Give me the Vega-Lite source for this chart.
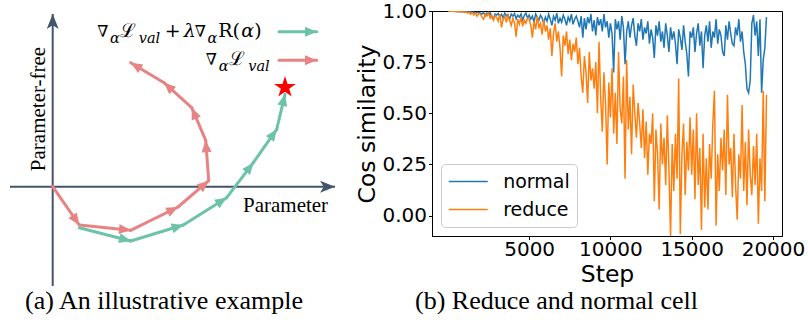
{
  "$schema": "https://vega.github.io/schema/vega-lite/v6.json",
  "padding": 0,
  "background": "white",
  "spacing": 92,
  "bounds": "flush",
  "resolve": {"scale": {"color": "independent"}, "legend": {"color": "independent"}},
  "config": {"view": {"stroke": null}},
  "datasets": {
    "segments": [
      {"path": "axis", "u": -4.27, "v": 0, "u2": 28.23, "v2": 0, "heading": 90},
      {"path": "axis", "u": 0, "v": -9.93, "u2": 0, "v2": 17.27, "heading": 0},
      {"path": "val", "u": 0, "v": 0, "u2": 2.66, "v2": -3.83, "heading": 145.2},
      {"path": "val", "u": 2.66, "v": -3.83, "u2": 7.8, "v2": -4.36, "heading": 95.9},
      {"path": "val", "u": 7.8, "v": -4.36, "u2": 12.53, "v2": -2.03, "heading": 63.8},
      {"path": "val", "u": 12.53, "v": -2.03, "u2": 15.6, "v2": 0.6, "heading": 49.4},
      {"path": "val", "u": 15.6, "v": 0.6, "u2": 15.3, "v2": 4.63, "heading": -4.3},
      {"path": "val", "u": 15.3, "v": 4.63, "u2": 13.9, "v2": 7.9, "heading": -23.2},
      {"path": "val", "u": 13.9, "v": 7.9, "u2": 11.13, "v2": 10.4, "heading": -47.9},
      {"path": "val", "u": 11.13, "v": 10.4, "u2": 7.8, "v2": 12.4, "heading": -59.0},
      {"path": "val", "u": 22.63, "v": 12.64, "u2": 26.4, "v2": 12.64, "heading": 90},
      {"path": "combined", "u": 2.66, "v": -4.1, "u2": 7.8, "v2": -5.43, "heading": 104.5},
      {"path": "combined", "u": 7.8, "v": -5.43, "u2": 13.06, "v2": -3.83, "heading": 73.1},
      {"path": "combined", "u": 13.06, "v": -3.83, "u2": 17.4, "v2": -1.1, "heading": 57.8},
      {"path": "combined", "u": 17.4, "v": -1.1, "u2": 20.06, "v2": 2.4, "heading": 37.2},
      {"path": "combined", "u": 20.06, "v": 2.4, "u2": 22.4, "v2": 5.74, "heading": 35.0},
      {"path": "combined", "u": 22.4, "v": 5.74, "u2": 23.23, "v2": 9.24, "heading": 13.3},
      {"path": "combined", "u": 22.63, "v": 15.5, "u2": 26.4, "v2": 15.5, "heading": 90}
    ],
    "cos": [
      {"step":0,"normal":1.0,"reduce":1.0},{"step":100,"normal":1.0,"reduce":1.0},{"step":200,"normal":1.0,"reduce":0.999},{"step":300,"normal":0.999,"reduce":1.0},{"step":400,"normal":1.0,"reduce":0.998},
      {"step":500,"normal":0.998,"reduce":0.999},{"step":600,"normal":0.999,"reduce":0.997},{"step":700,"normal":0.997,"reduce":0.998},{"step":800,"normal":0.998,"reduce":0.995},{"step":900,"normal":0.996,"reduce":0.997},
      {"step":1000,"normal":0.998,"reduce":0.993},{"step":1100,"normal":0.995,"reduce":0.996},{"step":1200,"normal":0.997,"reduce":0.99},{"step":1300,"normal":0.994,"reduce":0.994},{"step":1400,"normal":0.996,"reduce":0.985},
      {"step":1500,"normal":0.993,"reduce":0.992},{"step":1600,"normal":0.995,"reduce":0.98},{"step":1700,"normal":0.99,"reduce":0.99},{"step":1800,"normal":0.994,"reduce":0.975},{"step":1900,"normal":0.992,"reduce":0.988},
      {"step":2000,"normal":0.99,"reduce":0.985},{"step":2100,"normal":0.985,"reduce":0.97},{"step":2200,"normal":0.993,"reduce":0.96},{"step":2300,"normal":0.978,"reduce":0.985},{"step":2400,"normal":0.99,"reduce":0.975},
      {"step":2500,"normal":0.984,"reduce":0.99},{"step":2600,"normal":0.992,"reduce":0.965},{"step":2700,"normal":0.97,"reduce":0.98},{"step":2800,"normal":0.96,"reduce":0.955},{"step":2900,"normal":0.985,"reduce":0.975},
      {"step":3000,"normal":0.98,"reduce":0.97},{"step":3100,"normal":0.988,"reduce":0.95},{"step":3200,"normal":0.972,"reduce":0.985},{"step":3300,"normal":0.984,"reduce":0.92},{"step":3400,"normal":0.965,"reduce":0.96},
      {"step":3500,"normal":0.99,"reduce":0.975},{"step":3600,"normal":0.976,"reduce":0.945},{"step":3700,"normal":0.982,"reduce":0.98},{"step":3800,"normal":0.96,"reduce":0.955},{"step":3900,"normal":0.985,"reduce":0.93},
      {"step":4000,"normal":0.975,"reduce":0.965},{"step":4100,"normal":0.988,"reduce":0.94},{"step":4200,"normal":0.962,"reduce":0.875},{"step":4300,"normal":0.98,"reduce":0.96},{"step":4400,"normal":0.97,"reduce":0.935},
      {"step":4500,"normal":0.985,"reduce":0.97},{"step":4600,"normal":0.955,"reduce":0.925},{"step":4700,"normal":0.978,"reduce":0.955},{"step":4800,"normal":0.99,"reduce":0.94},{"step":4900,"normal":0.965,"reduce":0.965},
      {"step":5000,"normal":0.98,"reduce":0.96},{"step":5100,"normal":0.96,"reduce":0.93},{"step":5200,"normal":0.975,"reduce":0.87},{"step":5300,"normal":0.945,"reduce":0.95},{"step":5400,"normal":0.985,"reduce":0.91},
      {"step":5500,"normal":0.97,"reduce":0.975},{"step":5600,"normal":0.955,"reduce":0.92},{"step":5700,"normal":0.98,"reduce":0.94},{"step":5800,"normal":0.965,"reduce":0.885},{"step":5900,"normal":0.94,"reduce":0.955},
      {"step":6000,"normal":0.97,"reduce":0.9},{"step":6100,"normal":0.95,"reduce":0.93},{"step":6200,"normal":0.985,"reduce":0.86},{"step":6300,"normal":0.96,"reduce":0.915},{"step":6400,"normal":0.93,"reduce":0.78},
      {"step":6500,"normal":0.975,"reduce":0.89},{"step":6600,"normal":0.955,"reduce":0.94},{"step":6700,"normal":0.99,"reduce":0.85},{"step":6800,"normal":0.94,"reduce":0.9},{"step":6900,"normal":0.965,"reduce":0.82},
      {"step":7000,"normal":0.945,"reduce":0.68},{"step":7100,"normal":0.98,"reduce":0.88},{"step":7200,"normal":0.96,"reduce":0.83},{"step":7300,"normal":0.93,"reduce":0.9},{"step":7400,"normal":0.97,"reduce":0.79},
      {"step":7500,"normal":0.95,"reduce":0.86},{"step":7600,"normal":0.985,"reduce":0.76},{"step":7700,"normal":0.935,"reduce":0.84},{"step":7800,"normal":0.96,"reduce":0.8},{"step":7900,"normal":0.975,"reduce":0.87},
      {"step":8000,"normal":0.95,"reduce":0.74},{"step":8100,"normal":0.92,"reduce":0.82},{"step":8200,"normal":0.975,"reduce":0.68},{"step":8300,"normal":0.87,"reduce":0.6},{"step":8400,"normal":0.965,"reduce":0.78},
      {"step":8500,"normal":0.91,"reduce":0.7},{"step":8600,"normal":0.97,"reduce":0.55},{"step":8700,"normal":0.94,"reduce":0.8},{"step":8800,"normal":0.985,"reduce":0.66},{"step":8900,"normal":0.9,"reduce":0.72},
      {"step":9000,"normal":0.955,"reduce":0.62},{"step":9100,"normal":0.88,"reduce":0.75},{"step":9200,"normal":0.97,"reduce":0.5},{"step":9300,"normal":0.93,"reduce":0.85},{"step":9400,"normal":0.96,"reduce":0.58},
      {"step":9500,"normal":0.9,"reduce":0.41},{"step":9600,"normal":0.985,"reduce":0.7},{"step":9700,"normal":0.92,"reduce":0.55},{"step":9800,"normal":0.95,"reduce":0.25},{"step":9900,"normal":0.87,"reduce":0.65},
      {"step":10000,"normal":0.94,"reduce":0.48},{"step":10100,"normal":0.89,"reduce":0.72},{"step":10200,"normal":0.7,"reduce":0.4},{"step":10300,"normal":0.96,"reduce":0.6},{"step":10400,"normal":0.91,"reduce":0.35},
      {"step":10500,"normal":0.95,"reduce":0.8},{"step":10600,"normal":0.86,"reduce":0.52},{"step":10700,"normal":0.975,"reduce":0.45},{"step":10800,"normal":0.92,"reduce":0.68},{"step":10900,"normal":0.74,"reduce":0.18},
      {"step":11000,"normal":0.9,"reduce":0.76},{"step":11100,"normal":0.95,"reduce":0.42},{"step":11200,"normal":0.87,"reduce":0.58},{"step":11300,"normal":0.93,"reduce":0.3},{"step":11400,"normal":0.965,"reduce":0.64},
      {"step":11500,"normal":0.88,"reduce":0.5},{"step":11600,"normal":0.83,"reduce":0.38},{"step":11700,"normal":0.94,"reduce":0.55},{"step":11800,"normal":0.9,"reduce":0.45},{"step":11900,"normal":0.96,"reduce":0.33},
      {"step":12000,"normal":0.86,"reduce":0.52},{"step":12100,"normal":0.92,"reduce":0.28},{"step":12200,"normal":0.89,"reduce":0.46},{"step":12300,"normal":0.95,"reduce":0.2},{"step":12400,"normal":0.84,"reduce":0.4},
      {"step":12500,"normal":0.91,"reduce":0.35},{"step":12600,"normal":0.87,"reduce":0.5},{"step":12700,"normal":0.77,"reduce":0.07},{"step":12800,"normal":0.93,"reduce":0.42},{"step":12900,"normal":0.88,"reduce":0.3},
      {"step":13000,"normal":0.95,"reduce":0.03},{"step":13100,"normal":0.85,"reduce":0.45},{"step":13200,"normal":0.9,"reduce":0.25},{"step":13300,"normal":0.82,"reduce":0.38},{"step":13400,"normal":0.94,"reduce":0.15},
      {"step":13500,"normal":0.88,"reduce":0.49},{"step":13600,"normal":0.8,"reduce":0.22},{"step":13700,"normal":0.92,"reduce":-0.1},{"step":13800,"normal":0.86,"reduce":0.35},{"step":13900,"normal":0.9,"reduce":0.12},
      {"step":14000,"normal":0.84,"reduce":0.4},{"step":14100,"normal":0.74,"reduce":0.18},{"step":14200,"normal":0.91,"reduce":0.67},{"step":14300,"normal":0.87,"reduce":-0.09},{"step":14400,"normal":0.81,"reduce":0.3},
      {"step":14500,"normal":0.93,"reduce":0.45},{"step":14600,"normal":0.85,"reduce":0.1},{"step":14700,"normal":0.79,"reduce":0.36},{"step":14800,"normal":0.68,"reduce":0.22},{"step":14900,"normal":0.9,"reduce":0.48},
      {"step":15000,"normal":0.87,"reduce":0.2},{"step":15100,"normal":0.92,"reduce":0.42},{"step":15200,"normal":0.8,"reduce":0.08},{"step":15300,"normal":0.89,"reduce":0.5},{"step":15400,"normal":0.94,"reduce":0.15},
      {"step":15500,"normal":0.83,"reduce":0.33},{"step":15600,"normal":0.9,"reduce":-0.07},{"step":15700,"normal":0.72,"reduce":0.4},{"step":15800,"normal":0.88,"reduce":0.04},{"step":15900,"normal":0.93,"reduce":0.28},
      {"step":16000,"normal":0.85,"reduce":0.03},{"step":16100,"normal":0.95,"reduce":0.35},{"step":16200,"normal":0.82,"reduce":0.18},{"step":16300,"normal":0.9,"reduce":0.45},{"step":16400,"normal":0.87,"reduce":0.61},
      {"step":16500,"normal":0.96,"reduce":-0.05},{"step":16600,"normal":0.84,"reduce":0.3},{"step":16700,"normal":0.91,"reduce":0.12},{"step":16800,"normal":0.88,"reduce":0.38},{"step":16900,"normal":0.8,"reduce":0.22},
      {"step":17000,"normal":0.78,"reduce":0.42},{"step":17100,"normal":0.93,"reduce":0.1},{"step":17200,"normal":0.86,"reduce":0.59},{"step":17300,"normal":0.95,"reduce":0.25},{"step":17400,"normal":0.89,"reduce":0.33},
      {"step":17500,"normal":0.84,"reduce":0.09},{"step":17600,"normal":0.83,"reduce":0.4},{"step":17700,"normal":0.92,"reduce":0.15},{"step":17800,"normal":0.88,"reduce":-0.02},{"step":17900,"normal":0.96,"reduce":0.3},
      {"step":18000,"normal":0.85,"reduce":0.18},{"step":18100,"normal":0.9,"reduce":0.54},{"step":18200,"normal":0.8,"reduce":0.12},{"step":18300,"normal":0.74,"reduce":0.36},{"step":18400,"normal":0.62,"reduce":0.05},
      {"step":18500,"normal":0.6,"reduce":0.42},{"step":18600,"normal":0.66,"reduce":0.2},{"step":18700,"normal":0.94,"reduce":0.1},{"step":18800,"normal":0.98,"reduce":0.34},{"step":18900,"normal":0.88,"reduce":0.15},
      {"step":19000,"normal":0.95,"reduce":0.4},{"step":19100,"normal":0.78,"reduce":-0.04},{"step":19200,"normal":0.96,"reduce":0.28},{"step":19300,"normal":0.6,"reduce":0.12},{"step":19400,"normal":0.76,"reduce":0.61},
      {"step":19500,"normal":0.82,"reduce":0.07},{"step":19600,"normal":0.97,"reduce":0.59}
    ]
  },
  "hconcat": [
    {
      "width": 340,
      "height": 306,
      "view": {"stroke": null},
      "encoding": {
        "x": {"field": "u", "type": "quantitative", "scale": {"domain": [-5.27, 28.73], "nice": false, "zero": false}, "axis": null},
        "y": {"field": "v", "type": "quantitative", "scale": {"domain": [-13.03, 17.57], "nice": false, "zero": false}, "axis": null}
      },
      "layer": [
        {
          "data": {"name": "segments"},
          "transform": [{"filter": "datum.path == 'axis'"}],
          "mark": {"type": "rule", "color": "#44546a", "strokeWidth": 2},
          "encoding": {"x2": {"field": "u2"}, "y2": {"field": "v2"}}
        },
        {
          "data": {"name": "segments"},
          "transform": [{"filter": "datum.path == 'axis'"}],
          "mark": {"type": "point", "shape": "M0,0L0.8,2L0,1.5L-0.8,2Z", "filled": true, "size": 225, "opacity": 1, "color": "#44546a", "strokeWidth": 0},
          "encoding": {
            "x": {"field": "u2", "type": "quantitative"},
            "y": {"field": "v2", "type": "quantitative"},
            "angle": {"field": "heading", "type": "quantitative", "scale": null}
          }
        },
        {
          "data": {"name": "segments"},
          "transform": [{"filter": "datum.path != 'axis'"}],
          "mark": {"type": "rule", "strokeWidth": 3, "strokeCap": "round"},
          "encoding": {
            "x2": {"field": "u2"}, "y2": {"field": "v2"},
            "color": {"field": "path", "type": "nominal", "scale": {"domain": ["combined", "val"], "range": ["#6cc3a8", "#e78383"]}, "legend": null}
          }
        },
        {
          "data": {"name": "segments"},
          "transform": [{"filter": "datum.path != 'axis'"}],
          "mark": {"type": "point", "shape": "M0,0L0.6,1.4L-0.6,1.4Z", "filled": true, "size": 280, "opacity": 1, "strokeWidth": 0},
          "encoding": {
            "x": {"field": "u2", "type": "quantitative"},
            "y": {"field": "v2", "type": "quantitative"},
            "angle": {"field": "heading", "type": "quantitative", "scale": null},
            "color": {"field": "path", "type": "nominal", "scale": {"domain": ["combined", "val"], "range": ["#6cc3a8", "#e78383"]}, "legend": null}
          }
        },
        {
          "data": {"values": [{"u": 23.23, "v": 9.93, "what": "optimum"}]},
          "mark": {"type": "point", "shape": "M0,-1L0.2245,-0.309L0.951,-0.309L0.363,0.118L0.588,0.809L0,0.382L-0.588,0.809L-0.363,0.118L-0.951,-0.309L-0.2245,-0.309Z", "filled": true, "size": 520, "opacity": 1, "color": "#ff0000", "strokeWidth": 0}
        },
        {
          "data": {"values": [
            {"txt": "∇", "u": 4.45, "v": 14.97},
            {"txt": "∇", "u": 14.2, "v": 14.97},
            {"txt": "∇", "u": 15.3, "v": 12.14}
          ]},
          "mark": {"type": "text", "align": "left", "baseline": "alphabetic", "font": "DejaVu Serif", "fontSize": 16, "color": "black"},
          "encoding": {"text": {"field": "txt"}}
        },
        {
          "data": {"values": [
            {"txt": "ℒ", "u": 6.72, "v": 14.97},
            {"txt": "+", "u": 11.2, "v": 14.97},
            {"txt": "R(", "u": 16.55, "v": 14.97},
            {"txt": ")", "u": 20.15, "v": 14.97},
            {"txt": "ℒ", "u": 17.6, "v": 12.14}
          ]},
          "mark": {"type": "text", "align": "left", "baseline": "alphabetic", "font": "DejaVu Serif", "fontSize": 19, "color": "black"},
          "encoding": {"text": {"field": "txt"}}
        },
        {
          "data": {"values": [
            {"txt": "λ", "u": 13.1, "v": 14.97},
            {"txt": "α", "u": 18.85, "v": 14.97}
          ]},
          "mark": {"type": "text", "align": "left", "baseline": "alphabetic", "font": "DejaVu Serif", "fontStyle": "italic", "fontSize": 19, "color": "black"},
          "encoding": {"text": {"field": "txt"}}
        },
        {
          "data": {"values": [
            {"txt": "α", "u": 5.72, "v": 14.42},
            {"txt": "val", "u": 8.6, "v": 14.42},
            {"txt": "α", "u": 15.47, "v": 14.42},
            {"txt": "α", "u": 16.6, "v": 11.59},
            {"txt": "val", "u": 19.55, "v": 11.59}
          ]},
          "mark": {"type": "text", "align": "left", "baseline": "alphabetic", "font": "DejaVu Serif", "fontStyle": "italic", "fontSize": 14.5, "color": "black"},
          "encoding": {"text": {"field": "txt"}}
        },
        {
          "data": {"values": [{"txt": "Parameter", "u": 19.03, "v": -2.53}]},
          "mark": {"type": "text", "align": "left", "baseline": "alphabetic", "font": "Liberation Serif", "fontSize": 21, "color": "black"},
          "encoding": {"text": {"field": "txt"}}
        },
        {
          "data": {"values": [{"txt": "Parameter-free", "u": -0.77, "v": 7.77}]},
          "mark": {"type": "text", "align": "center", "baseline": "alphabetic", "angle": 270, "font": "Liberation Serif", "fontSize": 21, "color": "black"},
          "encoding": {"text": {"field": "txt"}}
        },
        {
          "data": {"values": [
            {"txt": "(a) An illustrative example", "u": -2.77, "v": -12.18},
            {"txt": "(b) Reduce and normal cell", "u": 36.23, "v": -12.18}
          ]},
          "mark": {"type": "text", "align": "left", "baseline": "alphabetic", "font": "Liberation Serif", "fontSize": 26, "color": "black"},
          "encoding": {"text": {"field": "txt"}}
        }
      ]
    },
    {
      "width": 350,
      "height": 225,
      "view": {"stroke": "black", "strokeWidth": 1},
      "data": {"name": "cos"},
      "transform": [{"fold": ["normal", "reduce"], "as": ["series", "cos"]}],
      "mark": {"type": "line", "strokeWidth": 1.5, "clip": true},
      "encoding": {
        "x": {
          "field": "step", "type": "quantitative",
          "scale": {"domain": [-975, 20555], "nice": false, "zero": false},
          "axis": {"values": [5000, 10000, 15000, 20000], "format": "d", "title": "Step", "grid": false, "labelFlush": false, "labelOverlap": false,
                   "labelFont": "DejaVu Sans", "labelFontSize": 20, "labelColor": "black", "labelPadding": -0.5,
                   "tickSize": 3.5, "tickColor": "black", "tickWidth": 1, "domainColor": "black", "domainWidth": 1,
                   "titleFont": "DejaVu Sans", "titleFontSize": 23.5, "titleFontWeight": "normal", "titleColor": "black", "titlePadding": 3}
        },
        "y": {
          "field": "cos", "type": "quantitative",
          "scale": {"domain": [-0.1, 1.0], "nice": false, "zero": false},
          "axis": {"values": [0, 0.25, 0.5, 0.75, 1.0], "format": ".2f", "title": "Cos similarity", "grid": false, "labelFlush": false, "labelOverlap": false,
                   "labelFont": "DejaVu Sans", "labelFontSize": 20, "labelColor": "black", "labelPadding": 2,
                   "tickSize": 3.5, "tickColor": "black", "tickWidth": 1, "domainColor": "black", "domainWidth": 1,
                   "titleFont": "DejaVu Sans", "titleFontSize": 23.5, "titleFontWeight": "normal", "titleColor": "black", "titlePadding": 2}
        },
        "color": {
          "field": "series", "type": "nominal",
          "scale": {"domain": ["normal", "reduce"], "range": ["#1f77b4", "#ff7f0e"]},
          "legend": {"title": null, "orient": "bottom-left", "offset": 9, "padding": 7, "strokeColor": "#cccccc", "fillColor": "rgba(255,255,255,0.8)", "cornerRadius": 4,
                     "labelFont": "DejaVu Sans", "labelFontSize": 19, "labelColor": "black", "labelLimit": 0,
                     "symbolType": "M-1,0L3,0", "symbolSize": 380, "symbolStrokeWidth": 1.5, "labelOffset": 34.2, "rowPadding": 7}
        }
      }
    }
  ]
}
